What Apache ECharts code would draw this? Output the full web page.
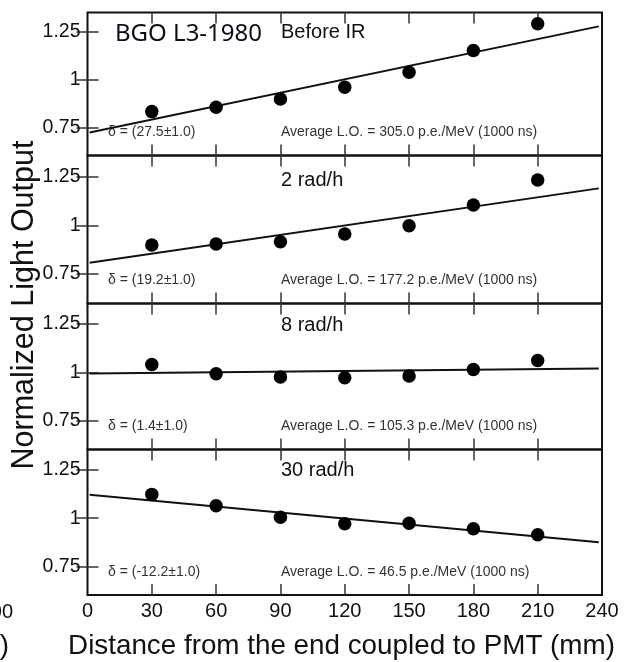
<!DOCTYPE html>
<html>
<head>
<meta charset="utf-8">
<script src="https://cdn.jsdelivr.net/npm/echarts@6/dist/echarts.min.js"></script>
<style>html,body{margin:0;padding:0;background:#fff}#c{width:625px;height:662px}</style>
</head>
<body>
<div id="c"></div>
<script>
// ---- data ----
const distances = [30, 60, 90, 120, 150, 180, 210];
const beforeIR = [0.835, 0.858, 0.901, 0.962, 1.040, 1.153, 1.292];
const rad2 = [0.899, 0.904, 0.916, 0.955, 0.998, 1.104, 1.233];
const rad8 = [1.040, 0.992, 0.976, 0.971, 0.981, 1.014, 1.061];
const rad30 = [1.123, 1.064, 1.005, 0.971, 0.974, 0.945, 0.914];
const fitX = [1, 238.5];
const fitBefore = [0.727, 1.278];
const fit2 = [0.808, 1.190];
const fit8 = [0.993, 1.019];
const fit30 = [1.121, 0.876];
const xTickValues = [0, 30, 60, 90, 120, 150, 180, 210, 240];
const yTickValues = [0.75, 1, 1.25];
const panelNames = ['Before IR', '2 rad/h', '8 rad/h', '30 rad/h'];
const deltas = ['δ = (27.5±1.0)', 'δ = (19.2±1.0)', 'δ = (1.4±1.0)', 'δ = (-12.2±1.0)'];
const avgLO = ['Average L.O. = 305.0 p.e./MeV (1000 ns)', 'Average L.O. = 177.2 p.e./MeV (1000 ns)',
  'Average L.O. = 105.3 p.e./MeV (1000 ns)', 'Average L.O. = 46.5 p.e./MeV (1000 ns)'];
const crystal = 'BGO L3-1980';
const yTitle = 'Normalized Light Output';
const xTitle = 'Distance from the end coupled to PMT (mm)';

// ---- layout ----
const tops = [12.5, 155.5, 303.5, 449.5];
const heights = [143, 148, 146, 145.5];
const yRanges = [[0.607, 1.350], [0.598, 1.359], [0.600, 1.356], [0.603, 1.355]];
const pointSets = [beforeIR, rad2, rad8, rad30];
const fitSets = [fitBefore, fit2, fit8, fit30];
const FONT = 'Liberation Sans, Arial, sans-serif';

const grids = [], xAxes = [], yAxes = [], series = [], graphics = [];
const tickStyle = {show: true, inside: true, length: 11, lineStyle: {color: '#333', width: 1.5}};
for (let i = 0; i < 4; i++) {
  grids.push({left: 87.5, right: 23, top: tops[i], height: heights[i],
    show: true, borderColor: '#111', borderWidth: 2, backgroundColor: 'transparent'});
  const isBottom = i === 3;
  xAxes.push({type: 'value', gridIndex: i, min: 0, max: 240, interval: 30, position: 'bottom',
    axisLine: {show: false}, splitLine: {show: false},
    axisTick: Object.assign({}, tickStyle, {customValues: xTickValues.slice(1, -1)}),
    axisLabel: {show: isBottom, customValues: xTickValues, fontFamily: FONT, fontSize: 20, color: '#111', margin: 6}});
  xAxes.push({type: 'value', gridIndex: i, min: 0, max: 240, interval: 30, position: 'top',
    axisLine: {show: false}, splitLine: {show: false},
    axisTick: Object.assign({}, tickStyle, {customValues: xTickValues.slice(1, -1)}),
    axisLabel: {show: false}});
  yAxes.push({type: 'value', gridIndex: i, min: yRanges[i][0], max: yRanges[i][1], position: 'left',
    axisLine: {show: false}, splitLine: {show: false},
    axisTick: Object.assign({}, tickStyle, {customValues: yTickValues}),
    axisLabel: {customValues: yTickValues, fontFamily: FONT, fontSize: 19.5, color: '#111', margin: 7,
      formatter: v => String(v)}});
  yAxes.push({type: 'value', gridIndex: i, min: yRanges[i][0], max: yRanges[i][1], position: 'right',
    axisLine: {show: false}, splitLine: {show: false},
    axisTick: Object.assign({}, tickStyle, {customValues: yTickValues}),
    axisLabel: {show: false}});

  series.push({type: 'line', xAxisIndex: 2 * i, yAxisIndex: 2 * i, symbol: 'none',
    data: fitX.map((x, k) => [x, fitSets[i][k]]),
    lineStyle: {color: '#111', width: 2}, silent: true, z: 2});
  series.push({type: 'scatter', xAxisIndex: 2 * i, yAxisIndex: 2 * i, symbol: 'circle', symbolSize: 13.5,
    data: distances.map((x, k) => [x, pointSets[i][k]]),
    itemStyle: {color: '#000', opacity: 1}, z: 3});

  const titleY = [33, 181.5, 326.5, 471.5][i];
  graphics.push({type: 'text', left: 281, top: titleY - 11,
    style: {text: panelNames[i], font: '20px ' + FONT, fill: '#111'}});
  const smallY = tops[i] + heights[i] - 23;
  graphics.push({type: 'text', left: 108, top: smallY - 7,
    style: {text: deltas[i], font: '14px ' + FONT, fill: '#333'}});
  graphics.push({type: 'text', left: 281, top: smallY - 7,
    style: {text: avgLO[i], font: '14px ' + FONT, fill: '#333'}});
}
graphics.push({type: 'text', left: 115, top: 22,
  style: {text: crystal, font: '24px "Noto Sans", sans-serif', fill: '#0d0d1a'}});
graphics.push({type: 'text', x: 25, y: 305, rotation: Math.PI / 2,
  style: {text: yTitle, font: '30.5px ' + FONT, fill: '#111', align: 'center', verticalAlign: 'middle'}});
graphics.push({type: 'text', x: 341.5, y: 646,
  style: {text: xTitle, font: '27.8px ' + FONT, fill: '#111', align: 'center', verticalAlign: 'middle'}});
// clipped neighbour-panel remnants at the left edge
graphics.push({type: 'text', x: 13, y: 612,
  style: {text: '300', font: '20px ' + FONT, fill: '#111', align: 'right', verticalAlign: 'middle'}});
graphics.push({type: 'text', x: 9, y: 646,
  style: {text: '(mm)', font: '27.8px ' + FONT, fill: '#111', align: 'right', verticalAlign: 'middle'}});

const chart = echarts.init(document.getElementById('c'), null, {renderer: 'canvas'});
chart.setOption({
  animation: false,
  backgroundColor: '#fff',
  grid: grids, xAxis: xAxes, yAxis: yAxes, series: series, graphic: graphics
});
</script>
</body>
</html>
